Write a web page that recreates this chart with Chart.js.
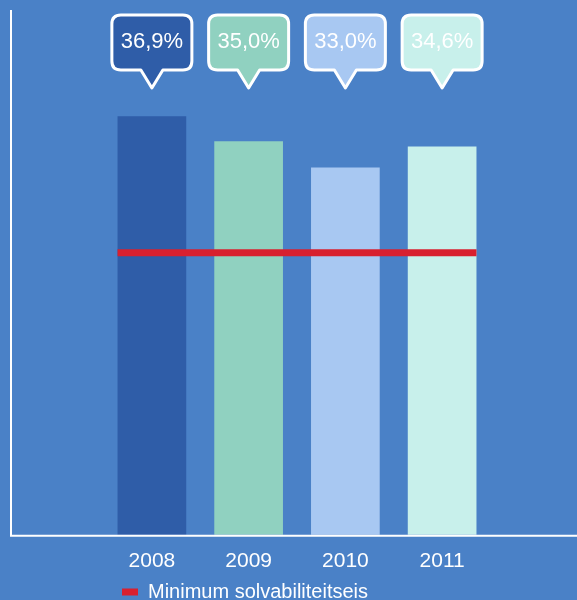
<!DOCTYPE html>
<html><head><meta charset="utf-8">
<script src="https://cdn.jsdelivr.net/npm/chart.js@4/dist/chart.umd.min.js"></script>
<style>html,body{margin:0;padding:0;background:#4a81c7;}#wrap{width:577px;height:600px;position:relative;}canvas{display:block;}</style>
</head><body><div id="wrap"><canvas id="c" width="577" height="600"></canvas></div>
<script>
const years = ['2008', '2009', '2010', '2011'];
const solvency = [36.9, 35.0, 33.0, 34.6];
const minimumSolvency = [26.5, 26.5, 26.5, 26.5];
const barColors = ['#2f5da8', '#90d1c0', '#a8c8f2', '#c8f0eb'];
const legendLabel = 'Minimum solvabiliteitseis';

const FONT = '"Liberation Sans", Arial, sans-serif';

function fmt(v) { return v.toFixed(1).replace('.', ',') + '%'; }

const placeLegend = {
  id: 'placeLegend',
  afterLayout(chart) {
    const lg = chart.legend;
    if (!lg) return;
    const pad = lg.options.labels.padding;
    const w = lg.right - lg.left, h = lg.bottom - lg.top;
    lg.left = 122 - pad;
    lg.right = lg.left + w;
    lg.top = 592 - pad - 10;
    lg.bottom = lg.top + h;
  }
};

const decor = {
  id: 'decor',
  afterDatasetsDraw(chart) {
    const ctx = chart.ctx;
    const area = chart.chartArea;
    const y = chart.scales.y;
    const bars = chart.getDatasetMeta(0).data;
    ctx.save();
    // axis lines
    ctx.strokeStyle = '#ffffff';
    ctx.lineWidth = 2;
    ctx.beginPath();
    ctx.moveTo(11, area.top);
    ctx.lineTo(11, area.bottom + 1);
    ctx.lineTo(577, area.bottom + 1);
    ctx.stroke();
    // minimum line
    const first = bars[0], last = bars[bars.length - 1];
    const ly = y.getPixelForValue(minimumSolvency[0]);
    ctx.strokeStyle = '#d8202f';
    ctx.lineWidth = 7;
    ctx.beginPath();
    ctx.moveTo(first.x - first.width / 2, ly);
    ctx.lineTo(last.x + last.width / 2, ly);
    ctx.stroke();
    // callouts
    bars.forEach((b, i) => {
      const cx = b.x, w = 80, h = 55, top = area.top + 5, r = 9;
      const l = cx - w / 2, rr = cx + w / 2, bt = top + h;
      ctx.beginPath();
      ctx.moveTo(l + r, top);
      ctx.lineTo(rr - r, top);
      ctx.quadraticCurveTo(rr, top, rr, top + r);
      ctx.lineTo(rr, bt - r);
      ctx.quadraticCurveTo(rr, bt, rr - r, bt);
      ctx.lineTo(cx + 11, bt);
      ctx.lineTo(cx, bt + 18);
      ctx.lineTo(cx - 11, bt);
      ctx.lineTo(l + r, bt);
      ctx.quadraticCurveTo(l, bt, l, bt - r);
      ctx.lineTo(l, top + r);
      ctx.quadraticCurveTo(l, top, l + r, top);
      ctx.closePath();
      ctx.fillStyle = barColors[i];
      ctx.fill();
      ctx.strokeStyle = '#ffffff';
      ctx.lineWidth = 3;
      ctx.lineJoin = 'round';
      ctx.stroke();
      ctx.fillStyle = '#ffffff';
      ctx.font = '22px ' + FONT;
      ctx.textAlign = 'center';
      ctx.textBaseline = 'middle';
      ctx.fillText(fmt(solvency[i]), cx, top + 27);
    });
    ctx.restore();
  }
};

new Chart(document.getElementById('c'), {
  type: 'bar',
  data: {
    labels: years,
    datasets: [
      {
        label: 'Solvabiliteit',
        data: solvency,
        backgroundColor: barColors,
        borderWidth: 0,
        barPercentage: 0.71,
        categoryPercentage: 1.0
      },
      {
        type: 'line',
        label: legendLabel,
        data: minimumSolvency,
        backgroundColor: '#d8202f',
        borderColor: '#d8202f',
        borderWidth: 0,
        pointRadius: 0,
        showLine: false
      }
    ]
  },
  options: {
    responsive: false,
    animation: false,
    devicePixelRatio: 1,
    layout: { padding: { left: 103.5, right: 86.5, top: 10, bottom: 12 } },
    scales: {
      x: {
        grid: { display: false, drawTicks: false },
        border: { display: false },
        ticks: { color: '#ffffff', font: { size: 21, family: FONT }, padding: 14 }
      },
      y: { display: false, min: 5, max: 45 }
    },
    plugins: {
      tooltip: { enabled: false },
      legend: {
        position: 'chartArea',
        align: 'start',
        labels: {
          color: '#ffffff',
          font: { size: 20, family: FONT },
          boxWidth: 16,
          boxHeight: 7,
          padding: 4,
          filter: (item) => item.datasetIndex === 1
        }
      }
    }
  },
  plugins: [placeLegend, decor]
});
</script></body></html>
